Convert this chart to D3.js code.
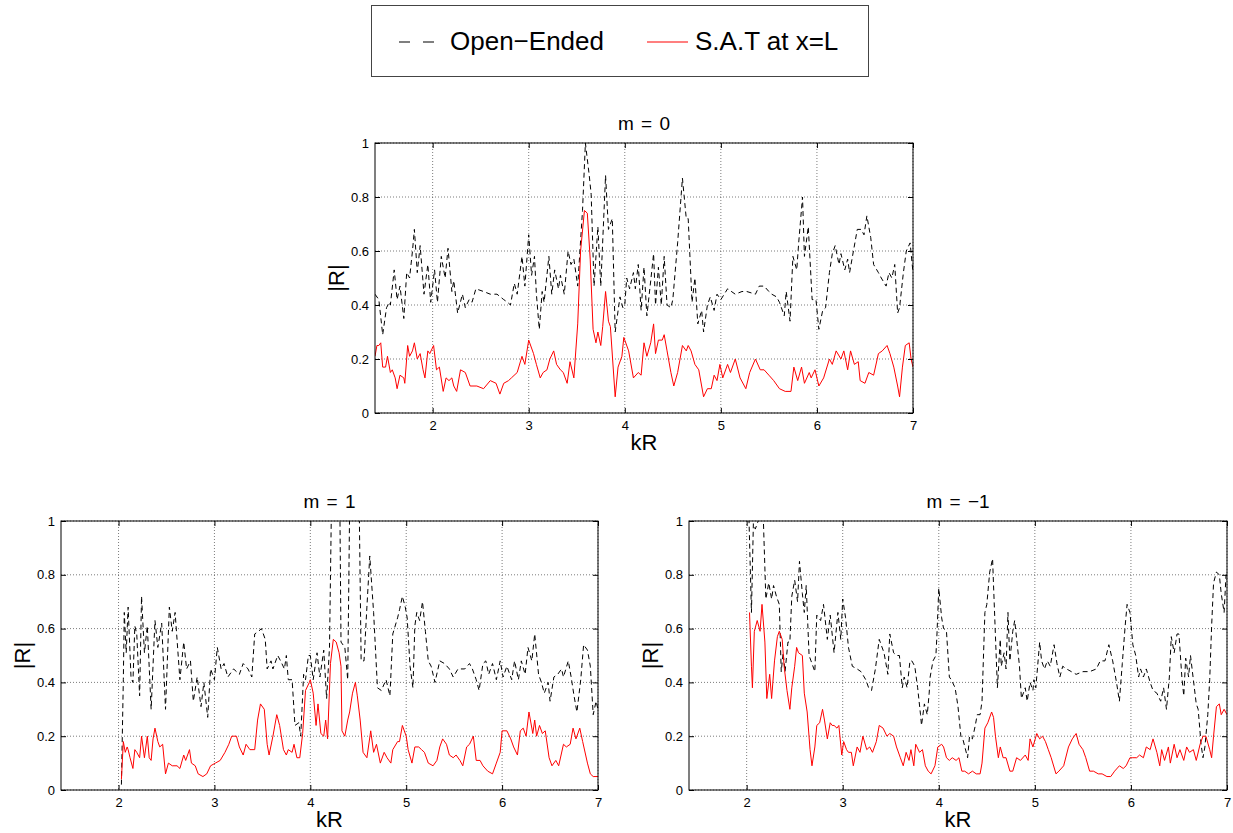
<!DOCTYPE html>
<html>
<head>
<meta charset="utf-8">
<script src="https://cdn.jsdelivr.net/npm/d3@7"></script>
<style>
  body { margin: 0; background: #fff; }
  svg { display: block; font-family: "Liberation Sans", Arial, sans-serif; }
</style>
</head>
<body>
<script>
const W = 1233, H = 833;

const xTicks = [2, 3, 4, 5, 6, 7];
const yTicks = [0, 0.2, 0.4, 0.6, 0.8, 1];
const xDomain = [1.4, 7];
const yDomain = [0, 1];
const seriesNames = ["Open\u2212Ended", "S.A.T at x=L"];

// [kR, |R|]
const m0Open = [[1.40,.44],[1.44,.42],[1.48,.29],[1.52,.39],[1.55,.41],[1.56,.40],[1.60,.53],[1.63,.42],[1.66,.47],[1.70,.35],[1.73,.52],[1.76,.50],[1.79,.60],[1.81,.68],[1.84,.52],[1.87,.62],[1.91,.44],[1.95,.55],[1.98,.41],[2.02,.53],[2.05,.41],[2.09,.58],[2.13,.50],[2.16,.61],[2.20,.45],[2.22,.49],[2.26,.37],[2.31,.44],[2.34,.39],[2.38,.42],[2.41,.41],[2.45,.46],[2.53,.45],[2.60,.44],[2.67,.44],[2.74,.42],[2.78,.41],[2.81,.40],[2.85,.48],[2.88,.44],[2.93,.58],[2.96,.47],[3.00,.66],[3.03,.51],[3.06,.58],[3.08,.44],[3.11,.31],[3.14,.45],[3.16,.41],[3.21,.58],[3.24,.44],[3.27,.53],[3.31,.46],[3.33,.51],[3.37,.44],[3.41,.60],[3.44,.55],[3.47,.57],[3.51,.47],[3.56,.75],[3.59,1.0],[3.63,.88],[3.65,.81],[3.68,.47],[3.72,.69],[3.75,.47],[3.80,.88],[3.83,.68],[3.87,.72],[3.90,.30],[3.95,.43],[3.98,.39],
  [4.00,.40],[4.02,.50],[4.05,.46],[4.09,.52],[4.11,.46],[4.14,.55],[4.17,.38],[4.20,.54],[4.23,.36],[4.27,.49],[4.30,.59],[4.32,.40],[4.35,.54],[4.38,.40],[4.41,.58],[4.44,.40],[4.48,.39],[4.50,.42],[4.55,.63],[4.60,.87],[4.64,.72],[4.66,.72],[4.70,.41],[4.73,.50],[4.76,.33],[4.80,.38],[4.82,.30],[4.86,.40],[4.89,.43],[4.93,.38],[4.96,.44],[5.00,.42],[5.07,.46],[5.15,.44],[5.22,.45],[5.27,.45],[5.36,.44],[5.40,.47],[5.45,.47],[5.50,.45],[5.53,.44],[5.58,.43],[5.61,.41],[5.66,.36],[5.68,.45],[5.72,.34],[5.75,.58],[5.79,.53],[5.81,.63],[5.85,.80],[5.87,.58],[5.91,.69],[5.95,.42],[5.99,.42],[6.02,.31],[6.06,.38],[6.09,.39],[6.13,.52],[6.16,.59],[6.19,.62],[6.23,.55],[6.25,.59],[6.29,.53],[6.32,.57],[6.34,.52],[6.38,.60],[6.42,.68],[6.46,.68],[6.49,.66],[6.52,.73],[6.56,.65],[6.59,.55],[6.64,.52],[6.67,.50],[6.72,.47],[6.75,.52],[6.78,.50],[6.81,.55],[6.84,.37],[6.86,.39],[6.90,.52],[6.93,.60],[6.97,.63],[7.00,.52]];

const m0Sat = [[1.40,.21],[1.42,.25],[1.44,.25],[1.46,.26],[1.48,.17],[1.51,.17],[1.53,.21],[1.56,.15],[1.58,.16],[1.61,.13],[1.63,.09],[1.66,.14],[1.70,.13],[1.71,.11],[1.74,.25],[1.76,.21],[1.79,.23],[1.81,.26],[1.84,.20],[1.87,.22],[1.90,.16],[1.92,.13],[1.95,.23],[1.97,.22],[2.01,.25],[2.04,.16],[2.07,.17],[2.11,.08],[2.14,.13],[2.17,.12],[2.20,.13],[2.22,.10],[2.25,.08],[2.29,.16],[2.34,.15],[2.39,.10],[2.46,.10],[2.53,.09],[2.60,.12],[2.66,.11],[2.70,.07],[2.74,.11],[2.79,.12],[2.82,.13],[2.88,.15],[2.93,.21],[2.96,.18],[3.00,.27],[3.05,.22],[3.08,.18],[3.12,.13],[3.15,.15],[3.19,.16],[3.22,.20],[3.26,.23],[3.29,.18],[3.33,.16],[3.36,.15],[3.40,.11],[3.43,.19],[3.47,.13],[3.51,.33],[3.54,.60],[3.58,.75],[3.61,.74],[3.64,.57],[3.67,.31],[3.70,.26],[3.72,.30],[3.75,.25],[3.77,.32],[3.80,.45],[3.83,.34],[3.85,.32],[3.90,.06],[3.93,.17],[3.97,.21],[3.99,.28],
  [4.00,.27],[4.04,.23],[4.09,.13],[4.14,.15],[4.17,.14],[4.20,.26],[4.23,.21],[4.27,.26],[4.30,.33],[4.32,.22],[4.35,.27],[4.39,.27],[4.41,.29],[4.44,.23],[4.48,.15],[4.51,.10],[4.55,.15],[4.60,.25],[4.64,.23],[4.66,.25],[4.69,.23],[4.73,.18],[4.77,.16],[4.82,.06],[4.86,.09],[4.90,.09],[4.93,.14],[4.96,.12],[4.99,.18],[5.02,.13],[5.07,.18],[5.10,.15],[5.15,.20],[5.20,.13],[5.26,.09],[5.30,.15],[5.36,.20],[5.41,.16],[5.45,.16],[5.50,.14],[5.55,.12],[5.61,.09],[5.67,.08],[5.73,.08],[5.76,.17],[5.80,.12],[5.84,.17],[5.87,.11],[5.92,.15],[5.94,.13],[5.98,.16],[6.02,.10],[6.07,.13],[6.13,.20],[6.16,.18],[6.20,.23],[6.25,.20],[6.28,.23],[6.32,.16],[6.35,.23],[6.39,.18],[6.43,.19],[6.45,.12],[6.50,.11],[6.54,.15],[6.59,.14],[6.64,.22],[6.68,.23],[6.73,.25],[6.76,.22],[6.80,.17],[6.84,.10],[6.86,.06],[6.89,.17],[6.92,.25],[6.96,.26],[6.98,.20],[7.00,.17]];

const m1Open = [[2.03,.02],[2.05,.41],[2.06,.66],[2.08,.51],[2.10,.68],[2.13,.42],[2.15,.40],[2.17,.61],[2.19,.58],[2.22,.35],[2.24,.72],[2.27,.51],[2.30,.61],[2.34,.30],[2.38,.63],[2.41,.53],[2.45,.62],[2.49,.30],[2.53,.68],[2.56,.59],[2.59,.66],[2.64,.41],[2.68,.55],[2.71,.45],[2.75,.48],[2.78,.33],[2.82,.42],[2.86,.31],[2.89,.40],[2.93,.27],[2.96,.45],[3.00,.41],[3.03,.53],[3.07,.45],[3.10,.47],[3.14,.42],[3.20,.45],[3.26,.43],[3.30,.47],[3.35,.45],[3.39,.42],[3.42,.58],[3.46,.59],[3.49,.60],[3.53,.56],[3.55,.45],[3.59,.48],[3.61,.45],[3.66,.50],[3.69,.48],[3.73,.45],[3.75,.50],[3.77,.41],[3.81,.41],[3.84,.24],[3.88,.25],[3.90,.20],[3.93,.43],[3.95,.41],[3.98,.50],
  [4.00,.50],[4.03,.41],[4.07,.51],[4.10,.42],[4.14,.52],[4.17,.34],[4.20,.53],[4.22,1.05],[4.24,1.4],[4.27,1.4],[4.30,1.4],[4.32,.55],[4.36,.53],[4.39,.41],[4.41,1.05],[4.43,1.4],[4.48,1.4],[4.51,1.05],[4.53,.48],[4.56,.48],[4.59,.68],[4.62,.87],[4.66,.66],[4.70,.38],[4.74,.37],[4.79,.41],[4.83,.35],[4.86,.58],[4.91,.64],[4.93,.67],[4.96,.72],[4.99,.68],[5.01,.64],[5.04,.46],[5.07,.38],[5.09,.61],[5.11,.66],[5.14,.63],[5.17,.70],[5.20,.59],[5.23,.48],[5.26,.46],[5.30,.40],[5.35,.48],[5.40,.47],[5.45,.45],[5.49,.42],[5.54,.45],[5.61,.45],[5.66,.47],[5.69,.45],[5.73,.41],[5.76,.37],[5.80,.47],[5.83,.48],[5.86,.43],[5.90,.47],[5.94,.41],[5.98,.48],[6.01,.42],[6.05,.46],[6.10,.41],[6.13,.48],[6.17,.41],[6.20,.48],[6.24,.43],[6.27,.53],[6.31,.48],[6.34,.58],[6.38,.43],[6.41,.40],[6.44,.36],[6.48,.40],[6.50,.33],[6.54,.42],[6.58,.43],[6.62,.45],[6.64,.42],[6.69,.48],[6.72,.42],[6.75,.35],[6.78,.29],[6.82,.41],[6.85,.54],[6.89,.52],[6.92,.46],[6.95,.28],[6.98,.33],[7.00,.30]];

const m1Sat = [[2.03,.04],[2.05,.18],[2.07,.14],[2.09,.16],[2.10,.15],[2.12,.12],[2.15,.08],[2.17,.15],[2.19,.14],[2.22,.12],[2.24,.20],[2.27,.12],[2.30,.20],[2.32,.12],[2.34,.11],[2.36,.19],[2.38,.23],[2.41,.18],[2.43,.16],[2.46,.17],[2.49,.06],[2.52,.10],[2.56,.09],[2.61,.09],[2.64,.08],[2.68,.13],[2.70,.11],[2.74,.15],[2.76,.10],[2.80,.09],[2.83,.06],[2.88,.05],[2.92,.06],[2.96,.09],[3.01,.10],[3.06,.11],[3.11,.14],[3.15,.17],[3.18,.20],[3.23,.20],[3.26,.16],[3.30,.13],[3.33,.17],[3.37,.15],[3.42,.15],[3.45,.26],[3.48,.32],[3.52,.30],[3.55,.17],[3.57,.13],[3.61,.20],[3.65,.28],[3.68,.24],[3.72,.15],[3.75,.13],[3.77,.15],[3.81,.14],[3.83,.17],[3.86,.12],[3.89,.12],[3.92,.21],[3.95,.37],[3.99,.40],
  [4.00,.41],[4.03,.36],[4.06,.24],[4.08,.32],[4.11,.21],[4.14,.20],[4.16,.26],[4.18,.19],[4.21,.47],[4.24,.56],[4.27,.55],[4.30,.51],[4.32,.46],[4.33,.22],[4.36,.20],[4.39,.26],[4.41,.29],[4.44,.36],[4.47,.40],[4.49,.35],[4.52,.26],[4.55,.14],[4.59,.12],[4.63,.22],[4.66,.14],[4.69,.17],[4.73,.10],[4.77,.14],[4.80,.12],[4.84,.10],[4.86,.15],[4.91,.18],[4.93,.18],[4.96,.24],[5.00,.20],[5.02,.15],[5.06,.10],[5.09,.16],[5.13,.16],[5.16,.15],[5.19,.14],[5.23,.10],[5.28,.09],[5.32,.11],[5.35,.16],[5.38,.19],[5.42,.17],[5.45,.13],[5.49,.12],[5.52,.13],[5.56,.11],[5.59,.09],[5.63,.16],[5.66,.17],[5.70,.20],[5.73,.11],[5.77,.11],[5.80,.09],[5.85,.07],[5.90,.06],[5.94,.10],[5.98,.14],[6.00,.22],[6.05,.22],[6.09,.19],[6.12,.16],[6.16,.13],[6.19,.22],[6.22,.23],[6.25,.20],[6.28,.29],[6.32,.21],[6.34,.26],[6.36,.20],[6.39,.24],[6.42,.21],[6.45,.22],[6.49,.12],[6.52,.09],[6.56,.11],[6.59,.09],[6.64,.17],[6.67,.16],[6.71,.17],[6.74,.23],[6.77,.19],[6.81,.23],[6.84,.18],[6.89,.10],[6.92,.06],[6.95,.05],[7.00,.05]];

const mm1Open = [[2.01,1.2],[2.05,.66],[2.07,.99],[2.09,.97],[2.12,1.0],[2.15,1.05],[2.17,1.05],[2.20,.71],[2.23,.77],[2.26,.71],[2.28,.76],[2.31,.72],[2.34,.69],[2.36,.44],[2.38,.51],[2.40,.44],[2.43,.55],[2.45,.55],[2.47,.72],[2.50,.78],[2.53,.70],[2.55,.85],[2.58,.73],[2.60,.66],[2.62,.76],[2.65,.50],[2.67,.48],[2.71,.44],[2.73,.65],[2.77,.63],[2.80,.69],[2.84,.56],[2.87,.65],[2.91,.51],[2.95,.66],[2.98,.56],[3.00,.71],[3.03,.64],[3.06,.53],[3.10,.46],[3.15,.45],[3.19,.44],[3.24,.41],[3.27,.38],[3.30,.37],[3.34,.45],[3.38,.56],[3.43,.51],[3.47,.43],[3.49,.58],[3.53,.51],[3.56,.50],[3.59,.50],[3.62,.38],[3.64,.42],[3.67,.38],[3.70,.48],[3.72,.48],[3.75,.46],[3.78,.38],[3.81,.28],[3.82,.24],[3.85,.32],[3.88,.28],[3.90,.36],
  [3.91,.42],[3.94,.48],[3.97,.50],[3.98,.57],[4.00,.75],[4.03,.64],[4.05,.60],[4.08,.59],[4.11,.42],[4.13,.41],[4.17,.38],[4.20,.31],[4.23,.20],[4.25,.19],[4.30,.12],[4.32,.20],[4.35,.19],[4.38,.24],[4.40,.28],[4.43,.28],[4.45,.33],[4.48,.66],[4.50,.69],[4.53,.81],[4.56,.86],[4.57,.76],[4.59,.57],[4.61,.38],[4.64,.56],[4.65,.46],[4.68,.51],[4.70,.45],[4.72,.66],[4.74,.48],[4.77,.59],[4.79,.63],[4.82,.53],[4.84,.46],[4.86,.34],[4.90,.38],[4.92,.33],[4.95,.40],[4.98,.37],[4.99,.41],[5.01,.38],[5.05,.55],[5.07,.48],[5.10,.45],[5.13,.48],[5.16,.46],[5.20,.54],[5.23,.47],[5.26,.42],[5.29,.46],[5.33,.45],[5.38,.44],[5.43,.43],[5.50,.44],[5.57,.44],[5.64,.45],[5.68,.48],[5.73,.48],[5.77,.54],[5.81,.48],[5.85,.40],[5.88,.33],[5.91,.47],[5.94,.61],[5.96,.69],[5.99,.66],[6.02,.54],[6.05,.50],[6.08,.42],[6.10,.45],[6.13,.42],[6.16,.45],[6.20,.40],[6.23,.37],[6.27,.36],[6.31,.33],[6.34,.38],[6.37,.30],[6.40,.42],[6.42,.57],[6.45,.51],[6.48,.58],[6.50,.58],[6.53,.42],[6.55,.35],[6.57,.49],[6.60,.42],[6.62,.50],[6.65,.41],[6.68,.32],[6.70,.30],[6.73,.17],[6.75,.12],[6.77,.16],[6.80,.28],[6.82,.41],[6.84,.61],[6.86,.77],[6.89,.81],[6.92,.80],[6.94,.73],[6.97,.66],[6.99,.80],[7.00,.78]];

const mm1Sat = [[2.03,.66],[2.05,.46],[2.06,.38],[2.08,.59],[2.11,.63],[2.14,.59],[2.16,.69],[2.19,.55],[2.21,.34],[2.24,.43],[2.26,.34],[2.29,.48],[2.32,.57],[2.34,.59],[2.37,.56],[2.39,.46],[2.42,.37],[2.45,.30],[2.47,.38],[2.50,.46],[2.52,.53],[2.54,.51],[2.58,.50],[2.60,.36],[2.63,.29],[2.66,.15],[2.68,.09],[2.71,.16],[2.73,.24],[2.76,.25],[2.79,.30],[2.81,.26],[2.84,.19],[2.87,.25],[2.89,.24],[2.91,.24],[2.94,.23],[2.96,.24],[2.99,.13],[3.01,.18],[3.04,.15],[3.06,.14],[3.09,.14],[3.11,.09],[3.15,.16],[3.18,.14],[3.21,.20],[3.25,.15],[3.28,.16],[3.31,.14],[3.35,.18],[3.38,.24],[3.42,.23],[3.46,.20],[3.49,.21],[3.53,.20],[3.56,.16],[3.60,.12],[3.63,.09],[3.66,.14],[3.69,.11],[3.71,.15],[3.74,.09],[3.76,.17],[3.80,.14],[3.83,.15],[3.86,.09],[3.89,.07],
  [3.92,.06],[3.96,.09],[3.99,.16],[4.03,.17],[4.05,.16],[4.08,.12],[4.11,.11],[4.14,.12],[4.18,.11],[4.21,.12],[4.24,.07],[4.27,.07],[4.31,.06],[4.35,.07],[4.39,.06],[4.43,.06],[4.45,.10],[4.48,.23],[4.51,.25],[4.55,.29],[4.57,.27],[4.59,.20],[4.62,.12],[4.64,.16],[4.67,.12],[4.70,.12],[4.74,.07],[4.77,.07],[4.81,.12],[4.85,.11],[4.90,.13],[4.93,.11],[4.95,.19],[4.98,.16],[5.02,.21],[5.05,.19],[5.08,.20],[5.11,.18],[5.14,.15],[5.17,.12],[5.22,.06],[5.25,.07],[5.30,.09],[5.35,.16],[5.39,.19],[5.43,.21],[5.46,.17],[5.50,.15],[5.53,.12],[5.57,.07],[5.61,.07],[5.66,.06],[5.70,.06],[5.75,.05],[5.79,.05],[5.83,.07],[5.88,.09],[5.92,.08],[5.95,.09],[5.99,.12],[6.02,.12],[6.06,.12],[6.09,.13],[6.13,.12],[6.16,.16],[6.20,.15],[6.23,.19],[6.27,.14],[6.30,.09],[6.32,.15],[6.35,.11],[6.39,.16],[6.41,.10],[6.45,.17],[6.48,.12],[6.51,.15],[6.55,.11],[6.58,.16],[6.61,.14],[6.65,.15],[6.68,.11],[6.72,.17],[6.75,.20],[6.78,.20],[6.82,.15],[6.84,.12],[6.86,.20],[6.89,.31],[6.92,.32],[6.94,.28],[6.97,.30],[7.00,.28]];

const panels = [
  { id: "p0", title: "m = 0", left: 375, top: 143, width: 538, height: 270, open: m0Open, sat: m0Sat },
  { id: "p1", title: "m = 1", left: 61, top: 521, width: 537, height: 269, open: m1Open, sat: m1Sat },
  { id: "p2", title: "m = \u22121", left: 689, top: 521, width: 538, height: 269, open: mm1Open, sat: mm1Sat }
];

const svg = d3.select("body").append("svg")
  .attr("width", W)
  .attr("height", H);

svg.append("rect").attr("width", W).attr("height", H).attr("fill", "#fff");

function drawPanel(p) {
  const g = svg.append("g").attr("transform", `translate(${p.left},${p.top})`);
  const x = d3.scaleLinear().domain(xDomain).range([0, p.width]);
  const y = d3.scaleLinear().domain(yDomain).range([p.height, 0]);

  // dotted grid
  g.append("g").selectAll("line.gx")
    .data(xTicks)
    .join("line")
    .attr("x1", d => x(d)).attr("x2", d => x(d))
    .attr("y1", 0).attr("y2", p.height)
    .attr("stroke", "#444").attr("stroke-width", 0.7)
    .attr("stroke-dasharray", "1,2");
  g.append("g").selectAll("line.gy")
    .data(yTicks)
    .join("line")
    .attr("x1", 0).attr("x2", p.width)
    .attr("y1", d => y(d)).attr("y2", d => y(d))
    .attr("stroke", "#444").attr("stroke-width", 0.7)
    .attr("stroke-dasharray", "1,2");

  svg.append("clipPath").attr("id", "clip-" + p.id)
    .append("rect").attr("width", p.width).attr("height", p.height);

  const line = d3.line().x(d => x(d[0])).y(d => y(d[1]));
  const plot = g.append("g").attr("clip-path", `url(#clip-${p.id})`);

  plot.append("path")
    .datum(p.open)
    .attr("d", line)
    .attr("fill", "none")
    .attr("stroke", "#000")
    .attr("stroke-width", 1)
    .attr("stroke-dasharray", "5,3.5");

  plot.append("path")
    .datum(p.sat)
    .attr("d", line)
    .attr("fill", "none")
    .attr("stroke", "#ff0000")
    .attr("stroke-width", 1);

  // axes, ticks pointing inward (matlab style)
  const xb = g.append("g").attr("transform", `translate(0,${p.height})`)
    .call(d3.axisBottom(x).tickValues(xTicks).tickFormat(d3.format("d"))
      .tickSizeInner(-5).tickSizeOuter(0).tickPadding(8));
  const yl = g.append("g")
    .call(d3.axisLeft(y).tickValues(yTicks).tickFormat(d => d === 0 || d === 1 ? String(d) : d3.format(".1f")(d))
      .tickSizeInner(-5).tickSizeOuter(0).tickPadding(6));
  const xt = g.append("g")
    .call(d3.axisTop(x).tickValues(xTicks).tickFormat("").tickSizeInner(-5).tickSizeOuter(0));
  const yr = g.append("g").attr("transform", `translate(${p.width},0)`)
    .call(d3.axisRight(y).tickValues(yTicks).tickFormat("").tickSizeInner(-5).tickSizeOuter(0));

  [xb, yl, xt, yr].forEach(a => {
    a.select(".domain").remove();
    a.selectAll("line").attr("stroke", "#000");
    a.selectAll("text")
      .attr("fill", "#000")
      .style("font-family", '"Liberation Sans", Arial, sans-serif')
      .style("font-size", "13px");
  });

  g.append("rect")
    .attr("width", p.width).attr("height", p.height)
    .attr("fill", "none").attr("stroke", "#000").attr("stroke-width", 1);

  g.append("text")
    .attr("x", p.width / 2).attr("y", -13)
    .attr("text-anchor", "middle")
    .style("font-size", "19px")
    .style("word-spacing", "2px")
    .text(p.title);

  g.append("text")
    .attr("x", p.width / 2).attr("y", p.height + 37)
    .attr("text-anchor", "middle")
    .style("font-size", "22px")
    .text("kR");

  g.append("text")
    .attr("transform", `translate(-31,${p.height / 2}) rotate(-90)`)
    .attr("text-anchor", "middle")
    .style("font-size", "22px")
    .text("|R|");
}

panels.forEach(drawPanel);

// legend
const lg = svg.append("g");
lg.append("rect")
  .attr("x", 371.5).attr("y", 5.5).attr("width", 497).attr("height", 71)
  .attr("fill", "#fff").attr("stroke", "#444").attr("stroke-width", 1);
lg.append("line")
  .attr("x1", 399).attr("x2", 435).attr("y1", 42).attr("y2", 42)
  .attr("stroke", "#000").attr("stroke-width", 1.2).attr("stroke-dasharray", "11,13");
lg.append("text")
  .attr("x", 450).attr("y", 50)
  .style("font-size", "26px")
  .text(seriesNames[0]);
lg.append("line")
  .attr("x1", 647).attr("x2", 688).attr("y1", 42).attr("y2", 42)
  .attr("stroke", "#ff0000").attr("stroke-width", 1.2);
lg.append("text")
  .attr("x", 695).attr("y", 50)
  .style("font-size", "26px")
  .text(seriesNames[1]);
</script>
</body>
</html>
